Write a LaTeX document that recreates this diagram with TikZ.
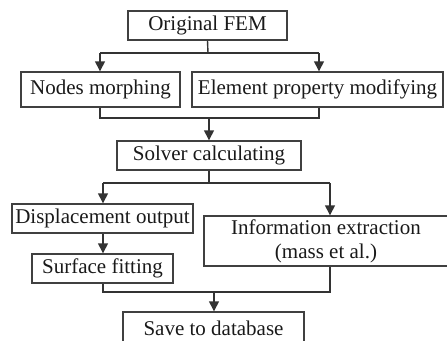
\documentclass[tikz,border=0pt]{standalone}
\usepackage{fontspec}
\setmainfont{Liberation Serif}
\usetikzlibrary{arrows.meta}
\begin{document}
\begin{tikzpicture}[x=1pt,y=-1pt,
  box/.style={draw=black!75, line width=1.4pt, inner sep=0pt, align=center,
    text=black!90, font=\fontsize{21}{24}\selectfont},
  link/.style={draw=black!80, line width=1.4pt},
  flow/.style={link, -{Triangle[length=10pt,width=10pt]}}]
\useasboundingbox (0,0) rectangle (447,340);

% boxes
\node[box, minimum width=159pt, minimum height=29pt] (fem) at (207.5,25.5) {Original FEM};
\node[box, minimum width=159pt, minimum height=35pt] (nm) at (100.5,89.5) {Nodes morphing};
\node[box, minimum width=251pt, minimum height=35pt] (ep) at (317.5,89.5) {Element property modifying};
\node[box, minimum width=184pt, minimum height=29pt] (solver) at (209,155.5) {Solver calculating};
\node[box, minimum width=181pt, minimum height=29pt] (disp) at (102.5,218.5) {Displacement output};
\node[box, minimum width=141pt, minimum height=29pt] (surf) at (102.5,268.5) {Surface fitting};
\node[box, minimum width=244pt, minimum height=50pt] (info) at (326,241) {Information extraction\\(mass et al.)};
\node[box, minimum width=181pt, minimum height=32pt] (save) at (213.5,328) {Save to database};

% junction points
\coordinate (s1) at (208,53);
\coordinate (a1) at (100,53);
\coordinate (b1) at (319,53);
\coordinate (a2) at (100,118);
\coordinate (b2) at (319,118);
\coordinate (m2) at (209,118);
\coordinate (s3) at (209,183);
\coordinate (a3) at (103,183);
\coordinate (b3) at (330,183);
\coordinate (a4) at (103,292);
\coordinate (b4) at (330,292);
\coordinate (m4) at (214,292);

% connectors
\draw[link] (fem.south) -- (s1);
\draw[link] (a1) -- (b1);
\draw[flow] (a1) -- (a1 |- nm.north);
\draw[flow] (b1) -- (b1 |- ep.north);

\draw[link] (nm.south -| a2) -- (a2) -- (b2) -- (ep.south -| b2);
\draw[flow] (m2) -- (solver.north);

\draw[link] (solver.south) -- (s3);
\draw[link] (a3) -- (b3);
\draw[flow] (a3) -- (a3 |- disp.north);
\draw[flow] (b3) -- (b3 |- info.north);

\draw[flow] (disp.south -| a3) -- (surf.north -| a3);

\draw[link] (surf.south -| a4) -- (a4) -- (b4) -- (info.south -| b4);
\draw[flow] (m4) -- (m4 |- save.north);
\end{tikzpicture}
\end{document}
